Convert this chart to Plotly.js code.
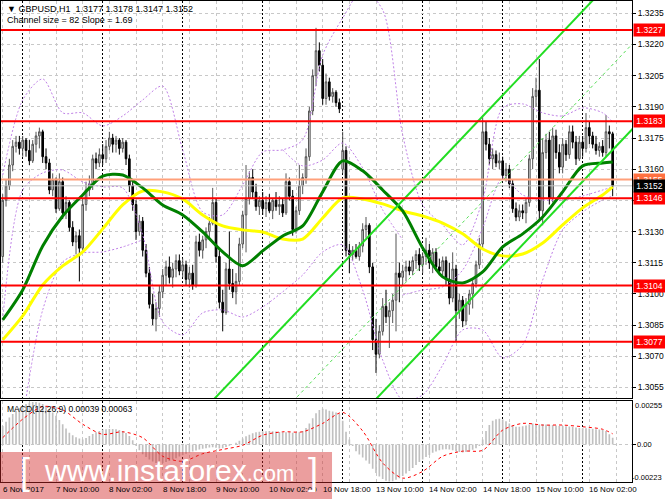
<!DOCTYPE html>
<html>
<head>
<meta charset="utf-8">
<script src="https://cdn.plot.ly/plotly-3.0.1.min.js"></script>
<style>
  html, body { margin: 0; padding: 0; background: #fff; }
  #chart { width: 665px; height: 499px; }
</style>
</head>
<body>
<div id="chart"></div>
<script>
/***********
  DATA
************/

// GBPUSD H1 bars, 6 Nov 18:00 -> 16 Nov 09:00 (weekend skipped)
const priceOpen = [
  1.3118,1.3145,1.3152,1.3162,1.3171,1.3173,1.3170,1.3174,1.3169,1.3164,
  1.3172,1.3176,1.3178,1.3166,1.3163,1.3150,1.3155,1.3141,1.3154,1.3139,
  1.3144,1.3132,1.3125,1.3128,1.3122,1.3143,1.3150,1.3153,1.3165,1.3163,
  1.3167,1.3165,1.3171,1.3175,1.3172,1.3174,1.3170,1.3173,1.3165,1.3152,
  1.3143,1.3130,1.3135,1.3121,1.3110,1.3095,1.3088,1.3093,1.3101,1.3109,
  1.3113,1.3108,1.3112,1.3116,1.3111,1.3114,1.3107,1.3110,1.3104,1.3125,
  1.3121,1.3126,1.3130,1.3134,1.3144,1.3118,1.3096,1.3091,1.3112,1.3105,
  1.3101,1.3106,1.3124,1.3138,1.3146,1.3156,1.3149,1.3142,1.3145,1.3141,
  1.3144,1.3140,1.3145,1.3142,1.3143,1.3139,1.3154,1.3147,1.3131,1.3140,
  1.3152,1.3156,1.3166,1.3188,1.3205,1.3217,1.3210,1.3194,1.3202,1.3195,
  1.3197,1.3192,1.3160,1.3169,1.3121,1.3119,1.3121,1.3118,1.3123,1.3131,
  1.3133,1.3113,1.3078,1.3071,1.3082,1.3094,1.3089,1.3092,1.3097,1.3110,
  1.3108,1.3111,1.3113,1.3111,1.3116,1.3119,1.3114,1.3118,1.3121,1.3115,
  1.3120,1.3113,1.3111,1.3116,1.3107,1.3098,1.3112,1.3092,1.3097,1.3087,
  1.3095,1.3100,1.3105,1.3114,1.3124,1.3178,1.3172,1.3165,1.3167,1.3163,
  1.3164,1.3157,1.3160,1.3153,1.3141,1.3137,1.3140,1.3139,1.3144,1.3165,
  1.3195,1.3198,1.3140,1.3168,1.3174,1.3146,1.3176,1.3168,1.3161,1.3172,
  1.3167,1.3178,1.3173,1.3165,1.3173,1.3170,1.3180,1.3176,1.3172,1.3169,
  1.3171,1.3168,1.3178,1.3177
];
const priceHigh = [
  1.3148,1.3155,1.3165,1.3174,1.3176,1.3176,1.3176,1.3175,1.3174,1.3174,
  1.3178,1.3180,1.3179,1.3170,1.3165,1.3158,1.3156,1.3158,1.3156,1.3147,
  1.3145,1.3135,1.3130,1.3131,1.3146,1.3154,1.3157,1.3167,1.3168,1.3170,
  1.3172,1.3174,1.3178,1.3177,1.3176,1.3175,1.3175,1.3174,1.3167,1.3155,
  1.3145,1.3138,1.3137,1.3124,1.3113,1.3100,1.3096,1.3104,1.3112,1.3116,
  1.3118,1.3115,1.3119,1.3119,1.3117,1.3116,1.3113,1.3114,1.3128,1.3129,
  1.3128,1.3132,1.3137,1.3151,1.3146,1.3121,1.3102,1.3115,1.3130,1.3112,
  1.3110,1.3127,1.3140,1.3162,1.3159,1.3160,1.3153,1.3147,1.3149,1.3147,
  1.3148,1.3146,1.3149,1.3147,1.3146,1.3158,1.3156,1.3150,1.3142,1.3162,
  1.3158,1.3170,1.3190,1.3208,1.3228,1.3221,1.3213,1.3206,1.3204,1.3199,
  1.3198,1.3194,1.3178,1.3171,1.3124,1.3123,1.3124,1.3125,1.3134,1.3137,
  1.3134,1.3115,1.3088,1.3085,1.3098,1.3102,1.3096,1.3100,1.3129,1.3115,
  1.3114,1.3116,1.3116,1.3118,1.3121,1.3122,1.3120,1.3127,1.3124,1.3122,
  1.3122,1.3117,1.3118,1.3118,1.3115,1.3120,1.3114,1.3100,1.3099,1.3098,
  1.3102,1.3107,1.3116,1.3127,1.3185,1.3183,1.3175,1.3170,1.3169,1.3168,
  1.3166,1.3163,1.3162,1.3155,1.3144,1.3143,1.3143,1.3146,1.3167,1.3199,
  1.3204,1.3213,1.3175,1.3177,1.3178,1.3180,1.3179,1.3172,1.3175,1.3174,
  1.3181,1.3181,1.3176,1.3176,1.3176,1.3187,1.3183,1.3178,1.3176,1.3173,
  1.3174,1.3186,1.3181,1.3178
];
const priceLow = [
  1.3115,1.3142,1.3150,1.3159,1.3168,1.3167,1.3166,1.3166,1.3162,1.3163,
  1.3168,1.3170,1.3163,1.3160,1.3148,1.3147,1.3139,1.3140,1.3136,1.3136,
  1.3130,1.3123,1.3119,1.3106,1.3120,1.3140,1.3147,1.3150,1.3160,1.3161,
  1.3162,1.3163,1.3169,1.3168,1.3168,1.3167,1.3168,1.3162,1.3149,1.3140,
  1.3126,1.3128,1.3118,1.3108,1.3093,1.3085,1.3082,1.3089,1.3098,1.3104,
  1.3105,1.3103,1.3108,1.3109,1.3108,1.3104,1.3103,1.3102,1.3103,1.3118,
  1.3117,1.3122,1.3126,1.3133,1.3115,1.3093,1.3082,1.3090,1.3102,1.3098,
  1.3095,1.3104,1.3122,1.3120,1.3143,1.3146,1.3140,1.3138,1.3138,1.3137,
  1.3139,1.3136,1.3140,1.3138,1.3137,1.3138,1.3145,1.3128,1.3129,1.3138,
  1.3148,1.3153,1.3164,1.3186,1.3200,1.3207,1.3191,1.3191,1.3193,1.3192,
  1.3190,1.3187,1.3158,1.3118,1.3110,1.3116,1.3117,1.3116,1.3120,1.3127,
  1.3110,1.3073,1.3062,1.3069,1.3080,1.3086,1.3074,1.3086,1.3082,1.3096,
  1.3104,1.3106,1.3109,1.3109,1.3112,1.3111,1.3110,1.3114,1.3112,1.3110,
  1.3111,1.3109,1.3109,1.3104,1.3095,1.3096,1.3077,1.3088,1.3084,1.3085,
  1.3090,1.3093,1.3103,1.3112,1.3122,1.3169,1.3162,1.3160,1.3161,1.3160,
  1.3155,1.3154,1.3151,1.3139,1.3135,1.3135,1.3136,1.3134,1.3142,1.3160,
  1.3190,1.3136,1.3133,1.3165,1.3143,1.3144,1.3165,1.3158,1.3158,1.3164,
  1.3165,1.3170,1.3162,1.3164,1.3166,1.3168,1.3172,1.3170,1.3167,1.3166,
  1.3166,1.3166,1.3170,1.3147
];
const priceClose = [
  1.3145,1.3152,1.3162,1.3171,1.3173,1.3170,1.3174,1.3169,1.3164,1.3172,
  1.3176,1.3178,1.3166,1.3163,1.3150,1.3155,1.3141,1.3154,1.3139,1.3144,
  1.3132,1.3125,1.3128,1.3122,1.3143,1.3150,1.3153,1.3165,1.3163,1.3167,
  1.3165,1.3171,1.3175,1.3172,1.3174,1.3170,1.3173,1.3165,1.3152,1.3143,
  1.3130,1.3135,1.3121,1.3110,1.3095,1.3088,1.3093,1.3101,1.3109,1.3113,
  1.3108,1.3112,1.3116,1.3111,1.3114,1.3107,1.3110,1.3104,1.3125,1.3121,
  1.3126,1.3130,1.3134,1.3144,1.3118,1.3096,1.3091,1.3112,1.3105,1.3101,
  1.3106,1.3124,1.3138,1.3146,1.3156,1.3149,1.3142,1.3145,1.3141,1.3144,
  1.3140,1.3145,1.3142,1.3143,1.3139,1.3154,1.3147,1.3131,1.3140,1.3152,
  1.3156,1.3166,1.3188,1.3205,1.3217,1.3210,1.3194,1.3202,1.3195,1.3197,
  1.3192,1.3189,1.3169,1.3121,1.3119,1.3121,1.3118,1.3123,1.3131,1.3133,
  1.3113,1.3078,1.3071,1.3082,1.3094,1.3089,1.3092,1.3097,1.3110,1.3108,
  1.3111,1.3113,1.3111,1.3116,1.3119,1.3114,1.3118,1.3121,1.3115,1.3120,
  1.3113,1.3111,1.3116,1.3107,1.3098,1.3112,1.3092,1.3097,1.3087,1.3095,
  1.3100,1.3105,1.3114,1.3124,1.3178,1.3172,1.3165,1.3167,1.3163,1.3164,
  1.3157,1.3160,1.3153,1.3141,1.3137,1.3140,1.3139,1.3144,1.3165,1.3195,
  1.3198,1.3140,1.3168,1.3174,1.3146,1.3176,1.3168,1.3161,1.3172,1.3167,
  1.3178,1.3173,1.3165,1.3173,1.3170,1.3180,1.3176,1.3172,1.3169,1.3171,
  1.3168,1.3178,1.3177,1.3152
];

// Indicators read every 6 bars
const sampleIdx = [0,6,12,18,24,30,36,42,48,54,60,66,72,78,84,90,96,102,108,114,120,126,132,138,144,150,156,162,168,174,180,183];
const maGreen = [1.30875,1.31019,1.31231,1.31375,1.31476,1.31567,1.31572,1.31510,1.31428,1.31380,1.31298,1.31202,1.31135,1.31207,1.31279,1.31327,
                 1.31491,1.31640,1.31592,1.31500,1.31399,1.31221,1.31082,1.31053,1.31106,1.31226,1.31289,1.31370,1.31491,1.31616,1.31630,1.31635];
const maYellow = [1.30779,1.30894,1.31043,1.31135,1.31202,1.31313,1.31428,1.31495,1.31491,1.31457,1.31380,1.31327,1.31308,1.31298,1.31264,1.31264,
                  1.31365,1.31462,1.31457,1.31433,1.31399,1.31375,1.31341,1.31289,1.31216,1.31183,1.31192,1.31245,1.31332,1.31414,1.31476,1.31515];
const bandUpperA = [1.31572,1.31933,1.32034,1.31871,1.31871,1.31808,1.31856,1.31933,1.32000,1.31693,1.31394,1.31380,1.31524,1.31683,1.31693,1.31741,
                    1.32149,1.32327,1.32462,1.32366,1.31765,1.31428,1.31332,1.31236,1.31452,1.31895,1.31914,1.31871,1.31856,1.31895,1.31871,1.31827];
const bandLowerA = [1.30875,1.31500,1.31582,1.31596,1.31539,1.31515,1.31510,1.31284,1.30865,1.30803,1.30909,1.30923,1.30889,1.30937,1.31010,1.31091,
                    1.31202,1.31236,1.31019,1.30682,1.30490,1.30514,1.30658,1.30827,1.30827,1.30692,1.30755,1.31067,1.31308,1.31394,1.31452,1.31471];
const bandUpperB = [null,null,null,null,null,null,null,null,null,null,null,null,null,null,1.31693,1.31616,
                    1.31644,1.31726,1.31606,1.31404,1.31260,null,null,null,null,null,null,null,null,null,null,null];
const bandLowerB = [null,1.30394,1.30923,1.31154,1.31197,1.31202,1.31226,1.31260,null,null,null,null,null,null,null,null,
                    null,null,null,null,1.30995,1.31019,1.31034,1.31115,1.31317,1.31558,1.31476,1.31452,1.31452,1.31471,1.31500,1.31515];

// MACD(12,26,9): main line per bar, signal every 6 bars
const macdMain = [
  0.00110,0.00135,0.00160,0.00180,0.00200,0.00215,0.00230,0.00240,0.00248,0.00252,
  0.00252,0.00248,0.00240,0.00228,0.00210,0.00190,0.00170,0.00145,0.00120,0.00095,
  0.00070,0.00055,0.00042,0.00035,0.00030,0.00038,0.00050,0.00062,0.00072,0.00080,
  0.00088,0.00090,0.00092,0.00091,0.00090,0.00086,0.00080,0.00068,0.00050,0.00025,
  -0.00008,-0.00035,-0.00058,-0.00075,-0.00090,-0.00102,-0.00110,-0.00112,-0.00110,-0.00105,
  -0.00098,-0.00090,-0.00082,-0.00072,-0.00062,-0.00055,-0.00048,-0.00042,-0.00036,-0.00030,
  -0.00026,-0.00022,-0.00018,-0.00016,-0.00020,-0.00024,-0.00022,-0.00015,-0.00008,0.00000,
  0.00010,0.00022,0.00035,0.00048,0.00058,0.00066,0.00072,0.00076,0.00078,0.00079,
  0.00080,0.00079,0.00077,0.00074,0.00072,0.00072,0.00073,0.00070,0.00068,0.00072,
  0.00080,0.00098,0.00125,0.00155,0.00185,0.00205,0.00212,0.00208,0.00200,0.00195,
  0.00190,0.00180,0.00140,0.00075,0.00030,-0.00010,-0.00040,-0.00060,-0.00078,-0.00095,
  -0.00115,-0.00145,-0.00170,-0.00190,-0.00205,-0.00215,-0.00220,-0.00218,-0.00210,-0.00200,
  -0.00188,-0.00172,-0.00158,-0.00140,-0.00122,-0.00105,-0.00090,-0.00075,-0.00062,-0.00050,
  -0.00042,-0.00035,-0.00030,-0.00028,-0.00030,-0.00034,-0.00040,-0.00045,-0.00048,-0.00045,
  -0.00040,-0.00032,-0.00022,-0.00010,0.00030,0.00080,0.00115,0.00140,0.00150,0.00152,
  0.00148,0.00138,0.00125,0.00112,0.00105,0.00105,0.00108,0.00112,0.00118,0.00125,
  0.00122,0.00118,0.00120,0.00118,0.00115,0.00115,0.00112,0.00110,0.00110,0.00108,
  0.00106,0.00104,0.00100,0.00098,0.00096,0.00096,0.00095,0.00093,0.00090,0.00088,
  0.00085,0.00080,0.00060,0.00039
];
const macdSignal = [0.00040,0.00150,0.00225,0.00205,0.00120,0.00060,0.00075,0.00040,-0.00070,-0.00100,-0.00055,-0.00030,-0.00005,0.00055,0.00075,0.00075,
                    0.00125,0.00190,0.00080,-0.00110,-0.00200,-0.00160,-0.00070,-0.00040,-0.00035,0.00085,0.00125,0.00115,0.00115,0.00105,0.00090,0.00063];

// Equidistant channel (two anchor bars)
const channelIdx = [40, 190];
const channelUpper = [1.30099, 1.32631];
const channelMiddle = [1.29689, 1.32221];
const channelLower = [1.29279, 1.31811];

// Horizontal levels
const redLevels = [1.3227, 1.3183, 1.3146, 1.3104, 1.3077];
const pivotLevel = 1.3155;
const bidLevel = 1.3152;

// Axes
const priceTicks = [1.3055,1.3070,1.3085,1.3100,1.3115,1.3130,1.3145,1.3160,1.3175,1.3190,1.3205,1.3220,1.3235];
const priceTickText = ['1.3055','1.3070','1.3085','1.3100','1.3115','1.3130','','1.3160','1.3175','1.3190','1.3205','1.3220','1.3235'];
const macdScale = [0.00255, 0, -0.00223];
const macdScaleText = ['0.00255', '0.00', '-0.00223'];
const daySeparatorIdx = [6, 30, 54, 78, 102, 126, 150, 174];
const timeLabelIdx = [0, 16, 32, 48, 64, 80, 96, 112, 128, 144, 160, 176];
const timeLabels = ['6 Nov 2017','7 Nov 10:00','8 Nov 02:00','8 Nov 18:00','9 Nov 10:00','10 Nov 02:00',
                    '10 Nov 18:00','13 Nov 10:00','14 Nov 02:00','14 Nov 18:00','15 Nov 10:00','16 Nov 02:00'];

/***********
  FUNCTIONS
************/

const FONT = 'Liberation Sans, Arial, sans-serif';

function lineTrace(x, y, color, width, dash, lower) {
  return {
    type: 'scatter', mode: 'lines', x: x, y: y,
    xaxis: lower ? 'x2' : 'x', yaxis: lower ? 'y2' : 'y',
    line: {color: color, width: width, dash: dash || 'solid', shape: 'spline', smoothing: 0.8},
    connectgaps: false, hoverinfo: 'skip'
  };
}

function priceBox(level, bg) {
  return {
    xref: 'paper', x: 1, xanchor: 'left', xshift: 1,
    yref: 'y', y: level, yanchor: 'middle',
    text: level.toFixed(4), showarrow: false,
    bgcolor: bg, borderpad: 1, width: 29,
    font: {family: FONT, size: 8.5, color: '#ffffff'}
  };
}

function drawChart() {
  const barIdx = priceOpen.map((v, i) => i);
  const gridIdx = [];
  for (let i = 0; i <= 184; i += 8) gridIdx.push(i);

  const traces = [
    {
      type: 'candlestick', x: barIdx,
      open: priceOpen, high: priceHigh, low: priceLow, close: priceClose,
      xaxis: 'x', yaxis: 'y', whiskerwidth: 0, hoverinfo: 'skip',
      increasing: {line: {color: '#555555', width: 1}, fillcolor: '#d8d8d8'},
      decreasing: {line: {color: '#000000', width: 1}, fillcolor: '#000000'}
    },
    lineTrace(sampleIdx, bandUpperA, '#bf80e6', 1, '2px,2px'),
    lineTrace(sampleIdx, bandLowerA, '#bf80e6', 1, '2px,2px'),
    lineTrace(sampleIdx, bandUpperB, '#bf80e6', 1, '2px,2px'),
    lineTrace(sampleIdx, bandLowerB, '#bf80e6', 1, '2px,2px'),
    lineTrace(sampleIdx, maYellow, '#ffff00', 3),
    lineTrace(sampleIdx, maGreen, '#008000', 3),
    lineTrace(channelIdx, channelUpper, '#22dd22', 2),
    lineTrace(channelIdx, channelMiddle, '#55dd55', 1, '3px,3px'),
    lineTrace(channelIdx, channelLower, '#22dd22', 2),
    {
      type: 'bar', x: barIdx, y: macdMain, xaxis: 'x2', yaxis: 'y2',
      width: 0.5, marker: {color: '#c0c0c0', line: {width: 0}}, hoverinfo: 'skip'
    },
    lineTrace(sampleIdx, macdSignal, '#ff0000', 1, 'dot', true)
  ];

  const xCommon = {
    range: [-0.51, 188.8], showticklabels: false, ticks: '',
    showline: true, mirror: true, linecolor: '#000', linewidth: 1,
    tickmode: 'array', tickvals: daySeparatorIdx,
    showgrid: true, gridcolor: '#000', griddash: '2px,2px', gridwidth: 1,
    zeroline: false, fixedrange: true,
    minor: {tickmode: 'array', tickvals: gridIdx, showgrid: true, gridcolor: '#c8c8c8', griddash: '3px,3px', gridwidth: 1, ticks: ''}
  };

  const shapes = [];
  redLevels.forEach(lv => shapes.push({type: 'line', xref: 'paper', x0: 0, x1: 1, yref: 'y', y0: lv, y1: lv,
    line: {color: '#ff0000', width: 2}, layer: 'above'}));
  shapes.push({type: 'line', xref: 'paper', x0: 0, x1: 1, yref: 'y', y0: pivotLevel, y1: pivotLevel,
    line: {color: '#ffa07a', width: 2}, layer: 'above'});
  shapes.push({type: 'line', xref: 'paper', x0: 0, x1: 1, yref: 'y', y0: bidLevel, y1: bidLevel,
    line: {color: '#c0c0c0', width: 1}, layer: 'above'});
  // watermark band
  shapes.push({type: 'rect', xref: 'paper', yref: 'paper', x0: -0.002, x1: 0.5246, y0: -0.036, y1: 0.0624,
    fillcolor: 'rgba(210,40,40,0.45)', line: {width: 0}, layer: 'above'});

  const annotations = [];
  annotations.push({xref: 'paper', yref: 'paper', x: 0.006, y: 1, yanchor: 'top', xanchor: 'left', yshift: -1,
    text: '\u25BC GBPUSD,H1&nbsp; 1.3177 1.3178 1.3147 1.3152', showarrow: false,
    font: {family: FONT, size: 9, color: '#000'}});
  annotations.push({xref: 'paper', yref: 'paper', x: 0.006, y: 1, yanchor: 'top', xanchor: 'left', yshift: -12,
    text: 'Channel size = 82 Slope = 1.69', showarrow: false,
    font: {family: FONT, size: 9, color: '#000'}});
  annotations.push({xref: 'paper', yref: 'paper', x: 0.006, y: 0.1674, yanchor: 'top', xanchor: 'left', yshift: -1,
    text: 'MACD(12,26,9) 0.00039 0.00063', showarrow: false,
    font: {family: FONT, size: 8.5, color: '#000'}});

  redLevels.forEach(lv => annotations.push(priceBox(lv, '#ff0000')));
  annotations.push(priceBox(pivotLevel, '#ff7040'));
  annotations.push(priceBox(bidLevel, '#000000'));

  // MACD scale labels, right-aligned to the window edge
  const macdShift = [-4, 0, 5];
  macdScale.forEach((v, k) => annotations.push({
    xref: 'paper', x: k === 1 ? 1 : 1.0507, xanchor: k === 1 ? 'left' : 'right', xshift: k === 1 ? 3 : 0,
    yref: 'y2', y: v, yanchor: 'middle', yshift: macdShift[k],
    text: macdScaleText[k], showarrow: false, font: {family: FONT, size: 7.5, color: '#000'}
  }));

  timeLabelIdx.forEach((idx, k) => annotations.push({
    xref: 'x2', x: idx, xanchor: 'left', xshift: -2, yref: 'paper', y: 0, yanchor: 'top', yshift: -1,
    text: timeLabels[k], showarrow: false, font: {family: FONT, size: 8, color: '#000'}
  }));

  // watermark text
  annotations.push({xref: 'paper', yref: 'paper', x: 0.027, y: 0.021, xanchor: 'left', yanchor: 'middle',
    text: '[', showarrow: false, font: {family: FONT, size: 36, color: '#ffffff'}});
  annotations.push({xref: 'paper', yref: 'paper', x: 0.065, y: 0.023, xanchor: 'left', yanchor: 'middle',
    text: 'www.instaforex<span style="font-size:22px">.com</span>', showarrow: false,
    font: {family: FONT, size: 30, color: '#ffffff'}});
  annotations.push({xref: 'paper', yref: 'paper', x: 0.484, y: 0.021, xanchor: 'left', yanchor: 'middle',
    text: ']', showarrow: false, font: {family: FONT, size: 36, color: '#ffffff'}});

  const layout = {
    width: 665, height: 499,
    margin: {l: 1, r: 33, t: 1, b: 17},
    paper_bgcolor: '#ffffff', plot_bgcolor: '#ffffff',
    showlegend: false, hovermode: false,
    font: {family: FONT, size: 9, color: '#000'},
    xaxis: Object.assign({anchor: 'y', rangeslider: {visible: false}}, xCommon),
    xaxis2: Object.assign({anchor: 'y2'}, xCommon),
    yaxis: {
      domain: [0.1736, 1], anchor: 'x', side: 'right', range: [1.30497, 1.32409],
      tickmode: 'array', tickvals: priceTicks, ticktext: priceTickText,
      ticks: 'outside', ticklen: 3, tickcolor: '#000', tickfont: {family: FONT, size: 8.5},
      showline: true, mirror: true, linecolor: '#000', linewidth: 1,
      showgrid: true, gridcolor: '#c8c8c8', griddash: '3px,3px', zeroline: false, fixedrange: true
    },
    yaxis2: {
      domain: [0, 0.1674], anchor: 'x2', side: 'right', range: [-0.00223, 0.00255],
      tickmode: 'array', tickvals: [0], showticklabels: false,
      ticks: 'outside', ticklen: 3, tickcolor: '#000',
      showline: true, mirror: true, linecolor: '#000', linewidth: 1,
      showgrid: true, gridcolor: '#c8c8c8', griddash: '3px,3px', zeroline: false, fixedrange: true
    },
    shapes: shapes,
    annotations: annotations
  };

  Plotly.newPlot('chart', traces, layout, {staticPlot: true, displayModeBar: false});
}

/***********
  INIT
************/
drawChart();
</script>
</body>
</html>
